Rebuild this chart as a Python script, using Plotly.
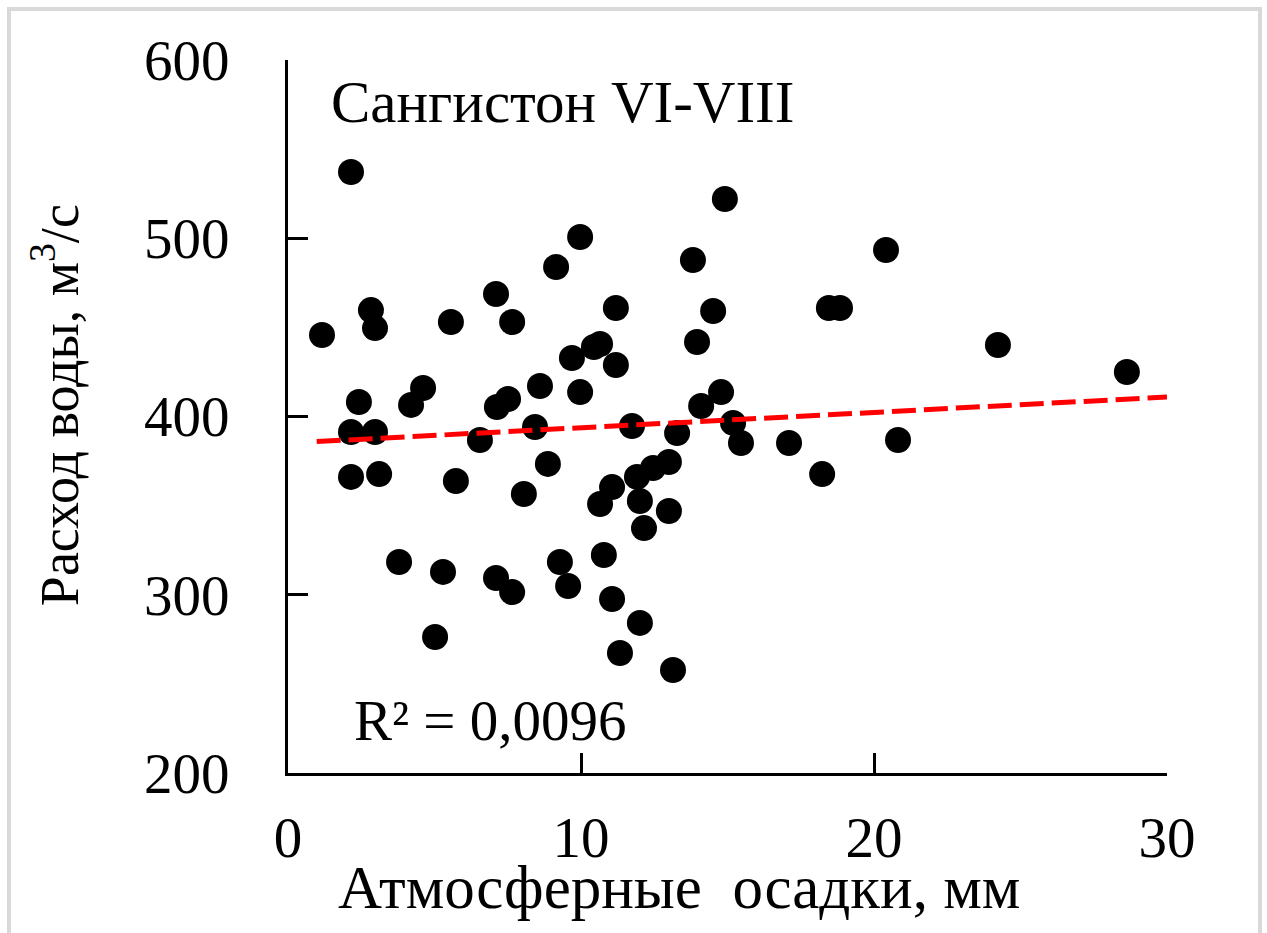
import plotly.graph_objects as go

# Атмосферные осадки (мм) и расход воды (м3/с), Сангистон, VI-VIII
precip_mm = [
    1.16, 2.15, 2.42, 2.15, 2.15, 2.83, 2.97, 2.97, 3.11, 3.79,
    4.20, 4.61, 5.02, 5.29, 5.56, 5.73, 6.55, 7.10, 7.13, 7.10,
    7.51, 7.65, 7.65, 8.60, 8.05, 8.43, 8.87, 9.15, 9.28, 9.56,
    9.69, 9.97, 9.97, 10.44, 10.65, 10.65, 10.78, 11.06, 11.06, 11.19,
    11.19, 11.33, 11.74, 11.91, 12.46, 13.00, 12.01, 12.01, 12.15, 13.00,
    13.14, 13.28, 13.82, 13.96, 14.10, 14.51, 14.78, 14.91, 15.19, 15.46,
    17.10, 18.23, 18.46, 18.84, 20.41, 20.82, 24.23, 28.63,
]
discharge_m3s = [
    445.7, 537.2, 408.1, 391.3, 366.1, 459.7, 449.6, 391.3, 367.7, 318.4,
    406.5, 416.0, 276.3, 312.8, 453.0, 363.8, 386.8, 468.7, 405.3, 309.4,
    409.8, 453.0, 301.5, 417.1, 356.5, 394.1, 373.4, 483.9, 318.4, 304.9,
    432.8, 500.7, 413.7, 439.0, 440.7, 350.9, 322.3, 297.6, 360.4, 428.9,
    460.9, 267.3, 394.7, 366.1, 371.1, 374.5, 352.6, 284.2, 337.4, 347.0,
    257.8, 390.7, 487.8, 441.8, 405.9, 459.2, 413.7, 522.0, 396.4, 385.1,
    385.1, 367.7, 460.9, 460.9, 493.4, 386.8, 440.1, 425.0,
]

# Линейный тренд y = b0 + b1*x
trend_b0 = 385.1
trend_b1 = 0.86
trend_x = [0.98, 30.0]
trend_y = [trend_b0 + trend_b1 * x for x in trend_x]
r2_text = "R² = 0,0096"

x_ticks = [0, 10, 20, 30]
y_ticks = [200, 300, 400, 500, 600]

SERIF = "Liberation Serif, Times New Roman, serif"

fig = go.Figure()
fig.add_trace(go.Scatter(
    x=precip_mm, y=discharge_m3s, mode="markers",
    marker=dict(color="black", size=26, line=dict(width=0)),
    showlegend=False, hoverinfo="x+y",
))
fig.add_trace(go.Scatter(
    x=trend_x, y=trend_y, mode="lines",
    line=dict(color="#ff0000", width=5, dash="24px,8px"),
    showlegend=False, hoverinfo="skip",
))

axis_common = dict(
    showline=True, linecolor="black", linewidth=3,
    ticks="inside", ticklen=20, tickwidth=3, tickcolor="black",
    showgrid=False, zeroline=False,
    tickfont=dict(family=SERIF, size=57, color="black"),
)
fig.update_xaxes(range=[0, 30], tickvals=x_ticks, ticklabelstandoff=13, **axis_common)
fig.update_yaxes(range=[200, 600], tickvals=y_ticks, ticklabelstandoff=44, **axis_common)

fig.add_annotation(
    text="Сангистон VI-VIII", xref="paper", yref="paper",
    x=0.047, y=0.941, xanchor="left", yanchor="middle", showarrow=False,
    font=dict(family=SERIF, size=59, color="black"),
)
fig.add_annotation(
    text=r2_text, xref="paper", yref="paper",
    x=0.073, y=0.074, xanchor="left", yanchor="middle", showarrow=False,
    font=dict(family=SERIF, size=57, color="black"),
)
fig.add_annotation(
    text="Атмосферные  осадки, мм", xref="paper", yref="paper",
    x=0.445, y=-0.16, xanchor="center", yanchor="middle", showarrow=False,
    font=dict(family=SERIF, size=61, color="black"),
)
fig.add_annotation(
    text="Расход воды, м<sup>3</sup>/с", xref="paper", yref="paper",
    x=-0.265, y=0.516, xanchor="center", yanchor="middle", showarrow=False,
    textangle=-90,
    font=dict(family=SERIF, size=54, color="black"),
)

# light frame around the page
fig.add_shape(
    type="rect", xref="paper", yref="paper",
    x0=-0.3174, x1=1.1058, y0=-0.35, y1=1.0715,
    line=dict(color="#d9d9d9", width=4), fillcolor="rgba(0,0,0,0)", layer="below",
)

fig.update_layout(
    width=1267, height=933,
    margin=dict(l=288, r=100, t=60, b=160),
    paper_bgcolor="white", plot_bgcolor="white",
)

fig.write_html("out.html", config={"displayModeBar": False})
